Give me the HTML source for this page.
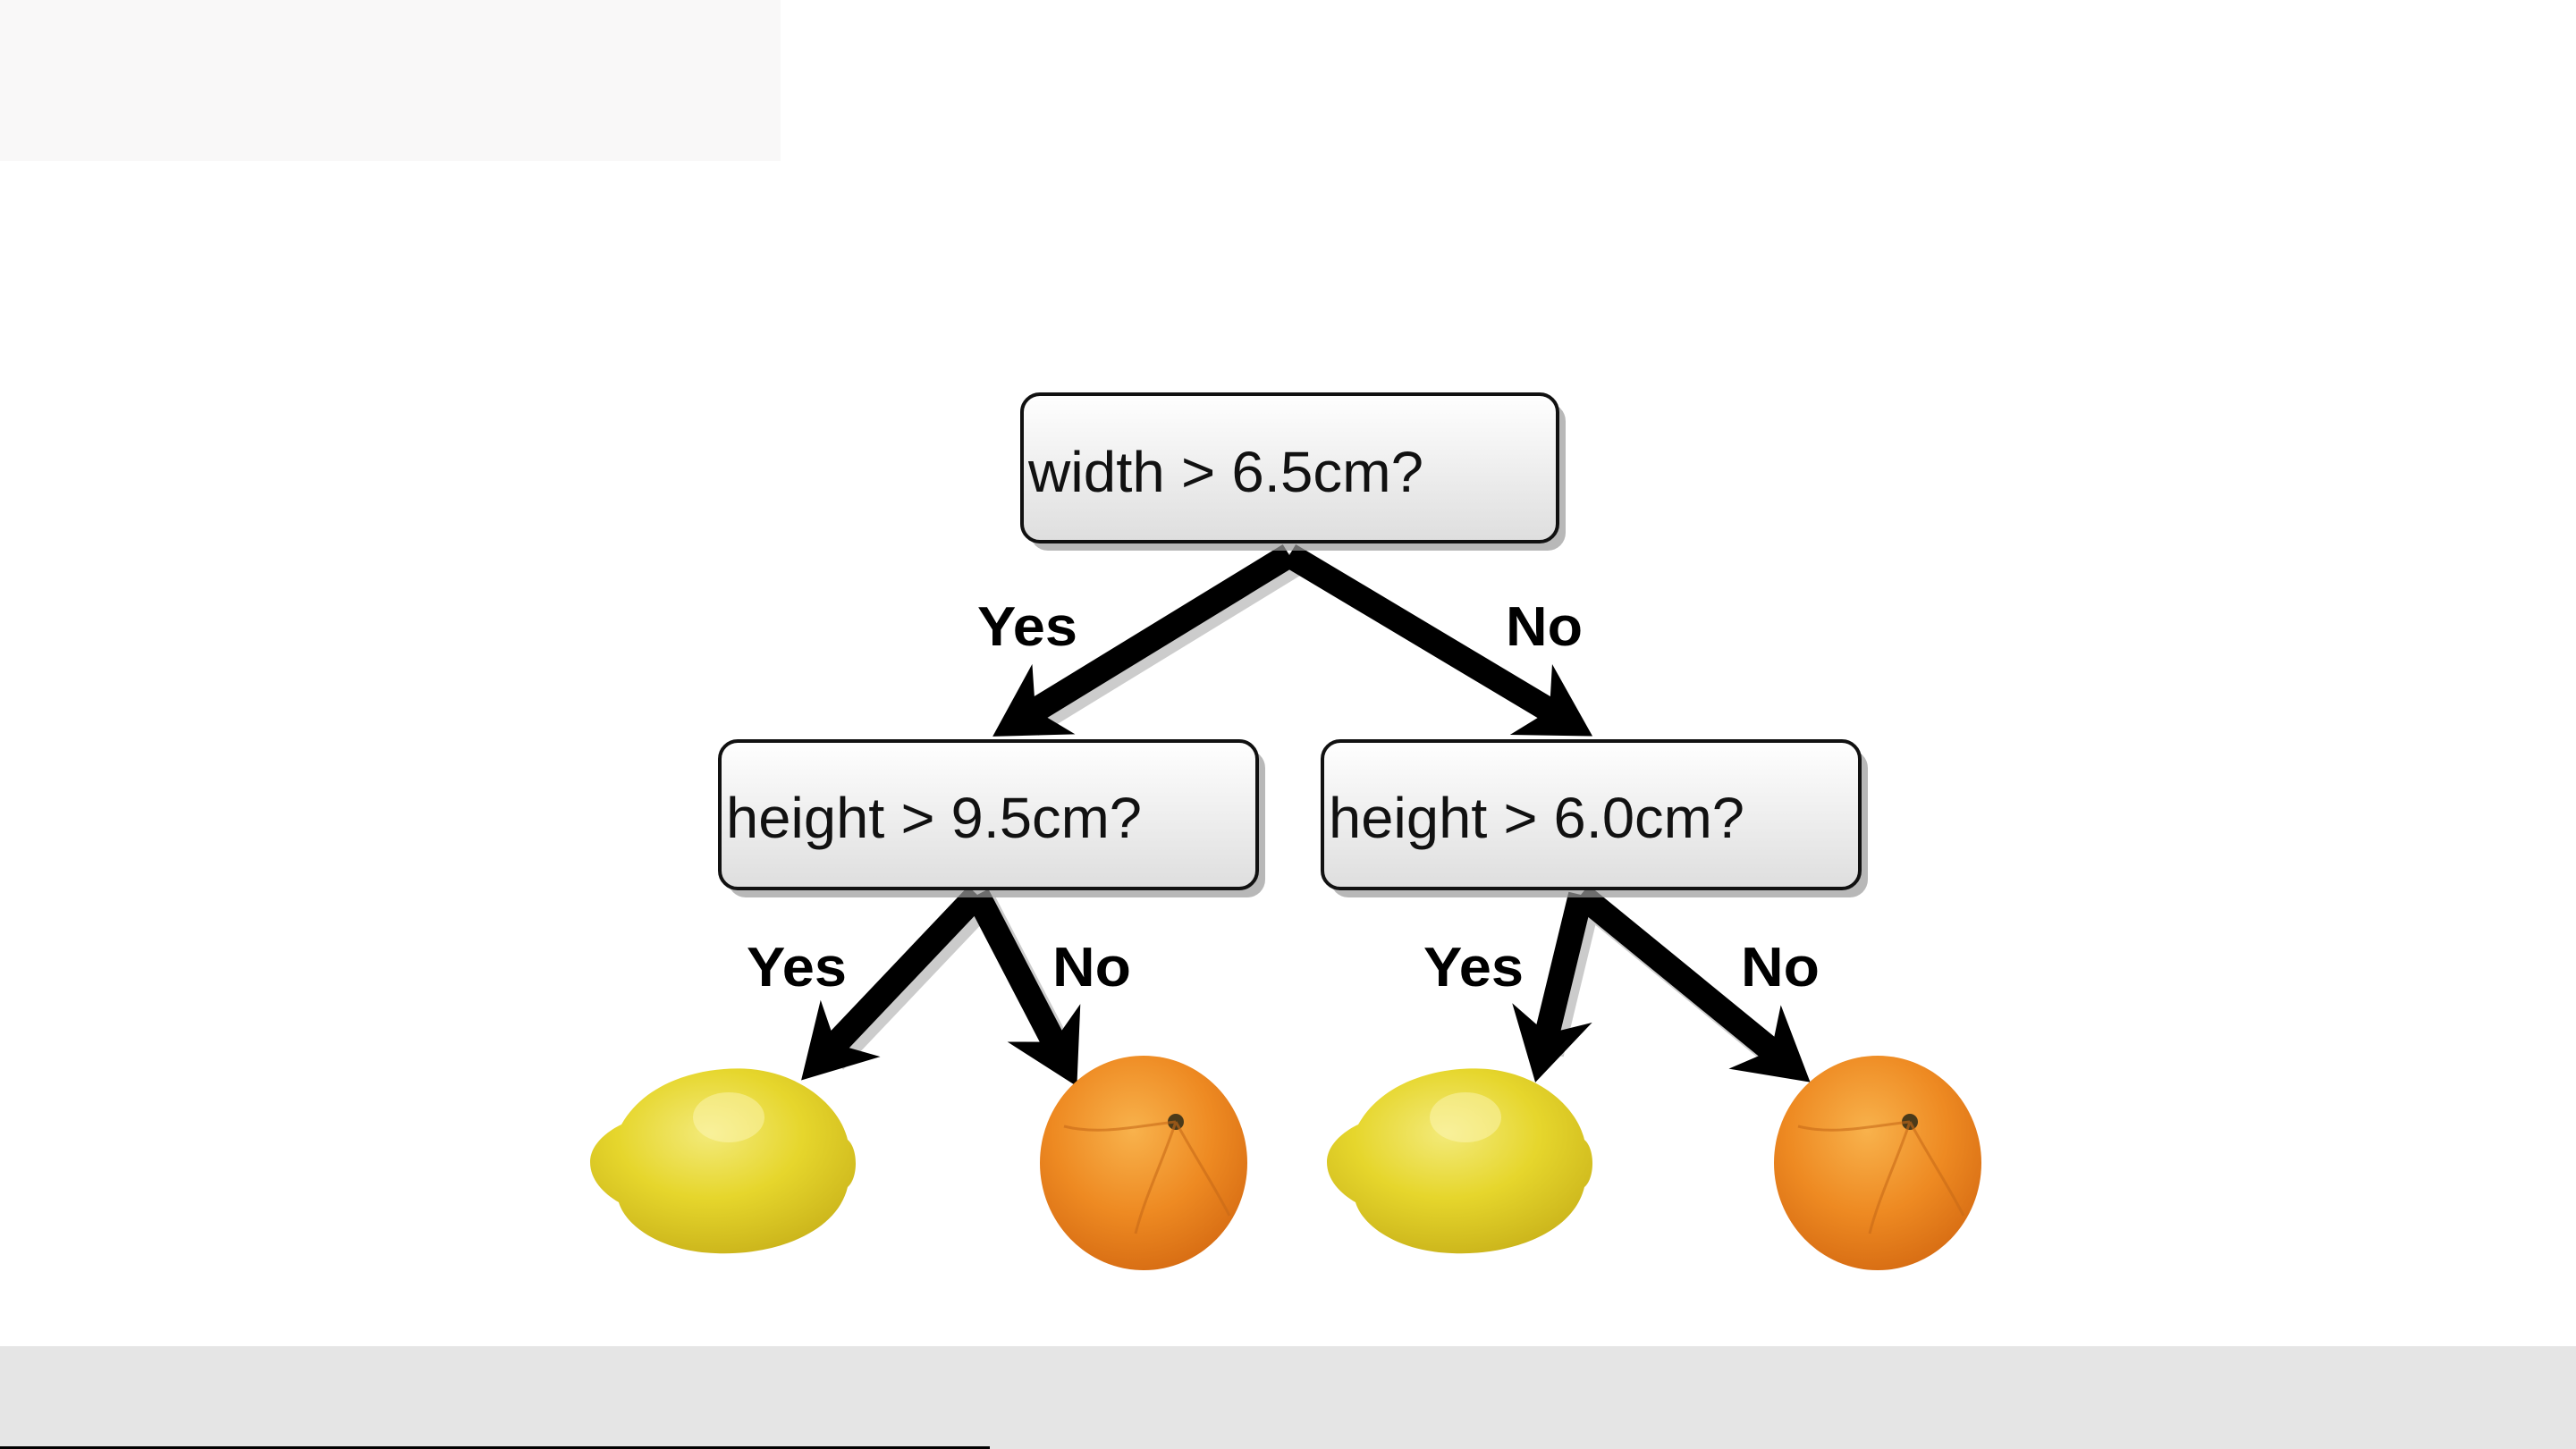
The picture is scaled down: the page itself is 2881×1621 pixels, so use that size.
<!DOCTYPE html>
<html><head><meta charset="utf-8"><style>
html,body{margin:0;padding:0;background:#fff;}
body{width:2881px;height:1621px;position:relative;overflow:hidden;}
</style></head><body>
<svg width="2881" height="1621" viewBox="0 0 2881 1621" xmlns="http://www.w3.org/2000/svg" style="position:absolute;left:0;top:0">
<defs>
<linearGradient id="box" x1="0" y1="0" x2="0" y2="1">
<stop offset="0" stop-color="#ffffff"/><stop offset="1" stop-color="#dedede"/>
</linearGradient>
<radialGradient id="lem" cx="0.45" cy="0.35" r="0.7">
<stop offset="0" stop-color="#f3ea7a"/><stop offset="0.5" stop-color="#e6d62c"/><stop offset="1" stop-color="#c9b21a"/>
</radialGradient>
<radialGradient id="ora" cx="0.45" cy="0.35" r="0.7">
<stop offset="0" stop-color="#f8b24c"/><stop offset="0.55" stop-color="#ee8a22"/><stop offset="1" stop-color="#d56a12"/>
</radialGradient>
<marker id="ah" markerUnits="userSpaceOnUse" markerWidth="160" markerHeight="160" viewBox="-80 -80 160 160" refX="0" refY="0" orient="auto">
<path d="M42,0 L-38,-46 L-14,0 L-38,46 Z" fill="#000"/>
</marker>
</defs>
<rect x="0" y="0" width="873" height="180" fill="#f9f8f8"/>
<rect x="0" y="1506" width="2881" height="115" fill="#e5e5e5"/>
<rect x="0" y="1618" width="1107" height="3" fill="#000"/>

<g stroke="#aaa" stroke-width="28" fill="none" opacity="0.6">
<line x1="1450" y1="630" x2="1154" y2="811"/>
<line x1="1101" y1="1010" x2="933" y2="1187"/>
<line x1="1101" y1="1010" x2="1193" y2="1187"/>
<line x1="1776" y1="1010" x2="1735" y2="1179"/>
<line x1="1776" y1="1010" x2="2000" y2="1193"/>
</g>
<g stroke="#000" stroke-width="28" fill="none" marker-end="url(#ah)">
<line x1="1442" y1="621" x2="1146" y2="802"/>
<line x1="1442" y1="621" x2="1745" y2="802"/>
<line x1="1093" y1="1001" x2="925" y2="1178"/>
<line x1="1093" y1="1001" x2="1185" y2="1178"/>
<line x1="1768" y1="1001" x2="1727" y2="1170"/>
<line x1="1768" y1="1001" x2="1992" y2="1184"/>
</g>

<g>
<rect x="1152" y="451" width="599" height="165" rx="20" fill="#9a9a9a" opacity="0.7"/>
<rect x="1143" y="441" width="599" height="165" rx="20" fill="url(#box)" stroke="#111" stroke-width="4"/>
<rect x="814" y="839" width="601" height="165" rx="20" fill="#9a9a9a" opacity="0.7"/>
<rect x="805" y="829" width="601" height="165" rx="20" fill="url(#box)" stroke="#111" stroke-width="4"/>
<rect x="1488" y="839" width="601" height="165" rx="20" fill="#9a9a9a" opacity="0.7"/>
<rect x="1479" y="829" width="601" height="165" rx="20" fill="url(#box)" stroke="#111" stroke-width="4"/>
</g>
<g font-family="Liberation Sans, sans-serif" font-size="64" fill="#111">
<text x="1150" y="550" textLength="442" lengthAdjust="spacingAndGlyphs">width &gt; 6.5cm?</text>
<text x="812" y="937" textLength="465" lengthAdjust="spacingAndGlyphs">height &gt; 9.5cm?</text>
<text x="1486" y="937" textLength="465" lengthAdjust="spacingAndGlyphs">height &gt; 6.0cm?</text>
</g>
<g font-family="Liberation Sans, sans-serif" font-size="62" font-weight="bold" fill="#000">
<text x="1093" y="722" textLength="112" lengthAdjust="spacingAndGlyphs">Yes</text>
<text x="1684" y="722" textLength="86" lengthAdjust="spacingAndGlyphs">No</text>
<text x="835" y="1103" textLength="112" lengthAdjust="spacingAndGlyphs">Yes</text>
<text x="1177" y="1103" textLength="88" lengthAdjust="spacingAndGlyphs">No</text>
<text x="1592" y="1103" textLength="112" lengthAdjust="spacingAndGlyphs">Yes</text>
<text x="1947" y="1103" textLength="88" lengthAdjust="spacingAndGlyphs">No</text>
</g>

<g>
<path d="M660,1300 C660,1280 680,1265 695,1258 C725,1205 795,1192 840,1196 C900,1202 940,1240 948,1275 C960,1285 960,1318 948,1328 C935,1382 860,1405 800,1402 C740,1400 700,1372 692,1345 C675,1335 660,1320 660,1300 Z" fill="url(#lem)"/>
<ellipse cx="815" cy="1250" rx="40" ry="28" fill="#fff8c0" opacity="0.45"/>
<path d="M1484,1300 C1484,1280 1504,1265 1519,1258 C1549,1205 1619,1192 1664,1196 C1724,1202 1764,1240 1772,1275 C1784,1285 1784,1318 1772,1328 C1759,1382 1684,1405 1624,1402 C1564,1400 1524,1372 1516,1345 C1499,1335 1484,1320 1484,1300 Z" fill="url(#lem)"/>
<ellipse cx="1639" cy="1250" rx="40" ry="28" fill="#fff8c0" opacity="0.45"/>
</g>
<g>
<ellipse cx="1279" cy="1301" rx="116" ry="120" fill="url(#ora)"/>
<circle cx="1315" cy="1255" r="9" fill="#4a3a1a"/>
<g stroke="#c86a18" stroke-width="3" fill="none" opacity="0.6">
<path d="M1315,1255 C1300,1300 1280,1340 1270,1380"/><path d="M1315,1255 C1270,1260 1230,1270 1190,1260"/><path d="M1315,1255 C1340,1300 1360,1330 1375,1360"/>
</g>
<ellipse cx="2100" cy="1301" rx="116" ry="120" fill="url(#ora)"/>
<circle cx="2136" cy="1255" r="9" fill="#4a3a1a"/>
<g stroke="#c86a18" stroke-width="3" fill="none" opacity="0.6">
<path d="M2136,1255 C2121,1300 2101,1340 2091,1380"/><path d="M2136,1255 C2091,1260 2051,1270 2011,1260"/><path d="M2136,1255 C2161,1300 2181,1330 2196,1360"/>
</g>
</g>
</svg>
</body></html>
